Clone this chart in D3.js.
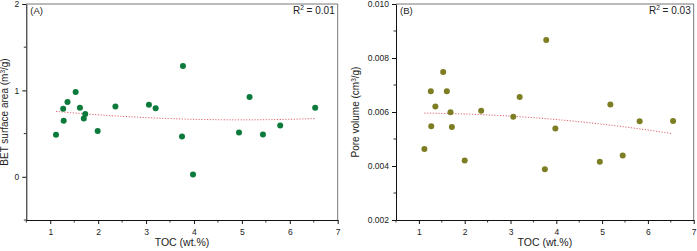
<!DOCTYPE html>
<html>
<head>
<meta charset="utf-8">
<script src="https://cdn.jsdelivr.net/npm/d3@7"></script>
<style>
  body { margin: 0; background: #fff; }
  text { font-family: "Liberation Sans", Arial, sans-serif; }
</style>
</head>
<body>
<script>
// TOC values (wt.%) shared by both panels
const tocA = [1.12, 1.27, 1.28, 1.36, 1.53, 1.62, 1.70, 1.73, 1.99, 2.36, 3.06, 3.20, 3.77, 3.75, 3.98, 4.94, 5.16, 5.44, 5.80, 6.53];
const betArea = [0.486, 0.788, 0.649, 0.865, 0.981, 0.799, 0.676, 0.726, 0.529, 0.815, 0.834, 0.792, 1.282, 0.467, 0.027, 0.514, 0.923, 0.490, 0.595, 0.799];

const tocB = [1.12, 1.26, 1.27, 1.36, 1.53, 1.61, 1.69, 1.72, 2.00, 2.36, 3.06, 3.20, 3.78, 3.98, 3.75, 4.95, 5.18, 5.45, 5.82, 6.55];
const poreVol = [0.00463, 0.00677, 0.00547, 0.00620, 0.00748, 0.00677, 0.00599, 0.00544, 0.00420, 0.00605, 0.00582, 0.00656, 0.00867, 0.00539, 0.00388, 0.00416, 0.00628, 0.00439, 0.00566, 0.00567];

// fitted trend coefficients (a + b*x + c*x^2)
const fitA = [0.8217, -0.0651, 0.00652];
const fitB = [0.005951, 0.0000332, -0.0000227];

const xTicks = [1, 2, 3, 4, 5, 6, 7];
const yTicksA = [0, 1, 2];
const yTicksB = [0.002, 0.004, 0.006, 0.008, 0.010];

const width = 697, height = 251;
const svg = d3.select('body').append('svg')
  .attr('width', width)
  .attr('height', height);

function panel(opts) {
  const x = d3.scaleLinear().domain([0.5, 7]).range([opts.left, opts.right]);
  const y = d3.scaleLinear().domain(opts.yDomain).range([220, 4]);
  const g = svg.append('g');

  // top and right frame lines
  g.append('path')
    .attr('d', `M${opts.left},4H${opts.right}V220`)
    .attr('fill', 'none').attr('stroke', '#777').attr('stroke-width', 1);

  // minor ticks
  const xMinor = d3.range(0.5, 7.01, 0.5).filter(v => !xTicks.includes(v));
  g.selectAll('.xm').data(xMinor).enter().append('line')
    .attr('x1', d => x(d)).attr('x2', d => x(d))
    .attr('y1', 220).attr('y2', 222.5)
    .attr('stroke', '#333');
  g.selectAll('.ym').data(opts.yMinor).enter().append('line')
    .attr('x1', opts.left).attr('x2', opts.left - 2.5)
    .attr('y1', d => y(d)).attr('y2', d => y(d))
    .attr('stroke', '#333');

  const xAxis = g.append('g').attr('transform', 'translate(0,220)')
    .call(d3.axisBottom(x).tickValues(xTicks).tickSize(4).tickSizeOuter(0).tickFormat(d3.format('d')));
  const yAxis = g.append('g').attr('transform', `translate(${opts.left},0)`)
    .call(d3.axisLeft(y).tickValues(opts.yTicks).tickSize(4).tickSizeOuter(0).tickFormat(opts.fmt));
  [xAxis, yAxis].forEach(a => {
    a.select('.domain').attr('stroke', '#111');
    a.selectAll('.tick line').attr('stroke', '#111');
    a.selectAll('text').attr('font-size', 8.5).attr('fill', '#222')
      .attr('font-family', '"Liberation Sans", Arial, sans-serif');
  });
  xAxis.selectAll('text').attr('dy', '0.9em');

  // trend curve
  const c = opts.fit;
  const xs = d3.range(d3.min(opts.xs), d3.max(opts.xs) + 0.001, 0.05);
  g.append('path')
    .datum(xs)
    .attr('d', d3.line().x(d => x(d)).y(d => y(c[0] + c[1] * d + c[2] * d * d)))
    .attr('fill', 'none')
    .attr('stroke', '#e06070')
    .attr('stroke-width', 1)
    .attr('stroke-dasharray', '1.2,1.6');

  // points
  g.selectAll('circle').data(opts.xs).enter().append('circle')
    .attr('cx', d => x(d))
    .attr('cy', (d, i) => y(opts.ys[i]))
    .attr('r', 3)
    .attr('fill', opts.color);

  g.append('text').attr('x', opts.left + 4).attr('y', 14)
    .attr('font-size', 9.5).attr('fill', '#222').text(opts.tag);
  const r2 = g.append('text').attr('x', opts.right - 3).attr('y', 14)
    .attr('font-size', 10).attr('fill', '#222').attr('text-anchor', 'end');
  r2.append('tspan').text('R');
  r2.append('tspan').attr('font-size', 6.5).attr('dy', -4).text('2');
  r2.append('tspan').attr('dy', 4).text(' = ' + opts.r2);

  g.append('text')
    .attr('x', (opts.left + opts.right) / 2).attr('y', 246)
    .attr('text-anchor', 'middle').attr('font-size', 10.5).attr('fill', '#222')
    .text('TOC (wt.%)');

  const yl = g.append('text')
    .attr('transform', `translate(${opts.labelX},112) rotate(-90)`)
    .attr('text-anchor', 'middle').attr('font-size', 10).attr('fill', '#222');
  yl.append('tspan').text(opts.yLabel[0]);
  yl.append('tspan').attr('font-size', 6.5).attr('dy', -3.5).text('3');
  yl.append('tspan').attr('dy', 3.5).text(opts.yLabel[1]);
}

panel({
  left: 26.3, right: 337.7, yDomain: [-0.5, 2],
  yTicks: yTicksA, yMinor: [-0.5, 0.5, 1.5], fmt: d3.format('d'),
  xs: tocA, ys: betArea, fit: fitA, color: '#0b7a3b',
  tag: '(A)', r2: '0.01', labelX: 8, yLabel: ['BET surface area (m', '/g)']
});

panel({
  left: 396, right: 693.7, yDomain: [0.002, 0.010],
  yTicks: yTicksB, yMinor: [0.003, 0.005, 0.007, 0.009], fmt: d3.format('.3f'),
  xs: tocB, ys: poreVol, fit: fitB, color: '#7d7d23',
  tag: '(B)', r2: '0.03', labelX: 359, yLabel: ['Pore volume (cm', '/g)']
});
</script>
</body>
</html>
